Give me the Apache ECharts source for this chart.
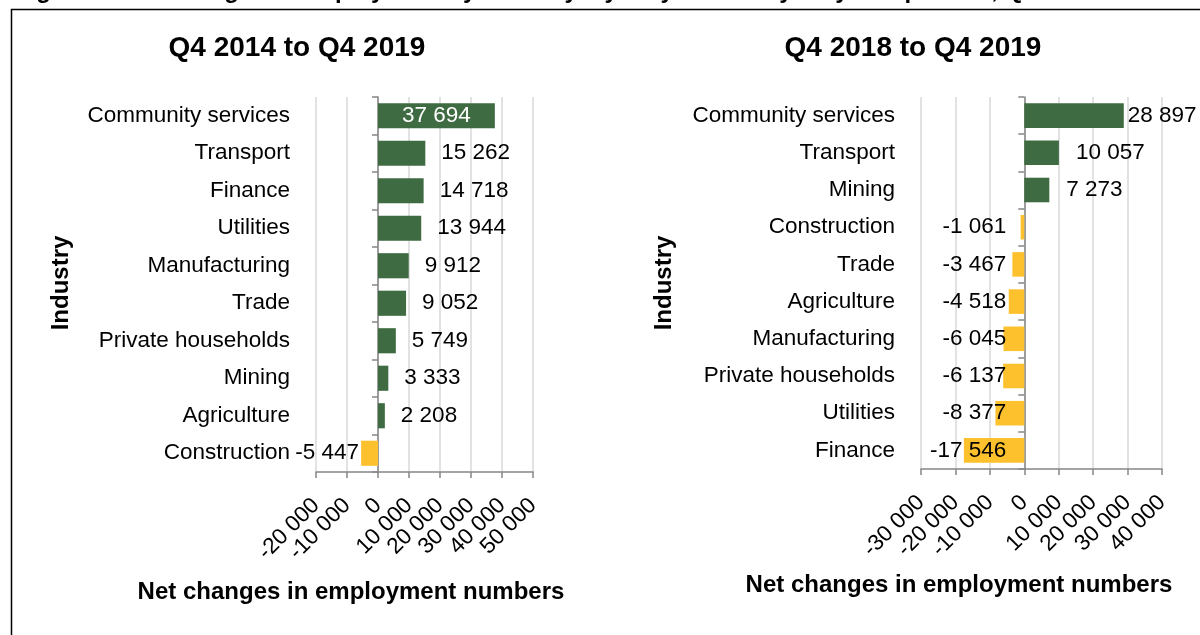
<!DOCTYPE html>
<html>
<head>
<meta charset="utf-8">
<script src="https://cdn.jsdelivr.net/npm/echarts@6/dist/echarts.min.js"></script>
<style>
  html, body { margin: 0; padding: 0; background: #fff; }
  #main { width: 1200px; height: 635px; }
</style>
</head>
<body>
<div id="main"></div>
<script>
// data: left panel (Q4 2014 to Q4 2019), top to bottom
var leftIndustries = ['Community services', 'Transport', 'Finance', 'Utilities', 'Manufacturing',
  'Trade', 'Private households', 'Mining', 'Agriculture', 'Construction'];
var leftValues = [37694, 15262, 14718, 13944, 9912, 9052, 5749, 3333, 2208, -5447];

// data: right panel (Q4 2018 to Q4 2019), top to bottom
var rightIndustries = ['Community services', 'Transport', 'Mining', 'Construction', 'Trade',
  'Agriculture', 'Manufacturing', 'Private households', 'Utilities', 'Finance'];
var rightValues = [28897, 10057, 7273, -1061, -3467, -4518, -6045, -6137, -8377, -17546];

var leftTitle = 'Q4 2014 to Q4 2019';
var rightTitle = 'Q4 2018 to Q4 2019';
var xName = 'Net changes in employment numbers';
var yName = 'Industry';

var GREEN = '#3e6b41';
var YELLOW = '#fdc12d';
var FONT = '"Liberation Sans", Arial, sans-serif';

//number with space as thousands separator
function fmt(v) {
  return String(v).replace(/\B(?=(\d{3})+(?!\d))/g, ' ');
}

function buildData(values, labelFor) {
  return values.map(function (v, i) {
    return {
      value: v,
      itemStyle: { color: v < 0 ? YELLOW : GREEN },
      label: labelFor(v, i)
    };
  });
}

var leftData = buildData(leftValues, function (v, i) {
  if (i === 0) return { position: 'inside', color: '#fff' };
  if (v < 0) return { position: 'left', distance: 2 };
  return { position: 'right', distance: 16 };
});
var rightData = buildData(rightValues, function (v, i) {
  if (i === 0) return { position: 'right', distance: 4 };
  if (v < 0) return { position: 'insideRight', distance: 18, color: '#000' };
  return { position: 'right', distance: 17 };
});

// the rotated tick labels overlap a little, so they are split over two axes
// (even / odd ticks) to stop echarts from dropping some of them
function valueAxes(grid, min, max) {
  function labels(parity) {
    return {
      rotate: 45, margin: 30, color: '#000', fontSize: 22.5, fontFamily: FONT,
      showMinLabel: true, showMaxLabel: true,
      formatter: function (v) {
        var k = Math.round((v - min) / 10000);
        return k % 2 === parity ? fmt(v) : '';
      }
    };
  }
  return [{
    type: 'value', gridIndex: grid, min: min, max: max, interval: 10000, position: 'bottom',
    axisLine: { show: true, onZero: false, lineStyle: { color: '#868686', width: 1.5 } },
    axisTick: { show: true, length: 6, lineStyle: { color: '#868686', width: 1.5 } },
    splitLine: { show: true, lineStyle: { color: '#d9d9d9', width: 1.5 } },
    axisLabel: labels(0)
  }, {
    type: 'value', gridIndex: grid, min: min, max: max, interval: 10000, position: 'bottom',
    axisLine: { show: false, onZero: false },
    axisTick: { show: false },
    splitLine: { show: false },
    axisLabel: labels(1)
  }];
}

function labelAxis(grid, cats) {
  return {
    type: 'category', gridIndex: grid, data: cats, inverse: true, position: 'left',
    axisLine: { show: false, onZero: false },
    axisTick: { show: false },
    axisLabel: { margin: 26, color: '#000', fontSize: 22.5, fontFamily: FONT, interval: 0 }
  };
}

function zeroAxis(grid, cats, xIndex) {
  return {
    type: 'category', gridIndex: grid, data: cats, inverse: true, position: 'left',
    axisLine: { show: true, onZero: true, onZeroAxisIndex: xIndex, lineStyle: { color: '#868686', width: 1.5 } },
    axisTick: { show: true, length: 6, lineStyle: { color: '#868686', width: 1.5 } },
    axisLabel: { show: false }
  };
}

var barLabel = {
  show: true, color: '#000', fontSize: 22.5, fontFamily: FONT,
  formatter: function (p) { return fmt(p.value); }
};

var myChart = echarts.init(document.getElementById('main'));
myChart.setOption({
  backgroundColor: '#fff',
  animation: false,
  grid: [
    { left: 316, right: 667, top: 97, bottom: 163 },
    { left: 921, right: 38, top: 97, bottom: 166 }
  ],
  xAxis: valueAxes(0, -20000, 50000).concat(valueAxes(1, -30000, 40000)),
  yAxis: [
    labelAxis(0, leftIndustries), zeroAxis(0, leftIndustries, 0),
    labelAxis(1, rightIndustries), zeroAxis(1, rightIndustries, 2)
  ],
  series: [
    { type: 'bar', xAxisIndex: 0, yAxisIndex: 0, data: leftData, barCategoryGap: '33%', label: barLabel },
    { type: 'bar', xAxisIndex: 2, yAxisIndex: 2, data: rightData, barCategoryGap: '34%', label: barLabel }
  ],
  graphic: [
    { //frame
      type: 'rect', silent: true,
      shape: { x: 11.5, y: 9.5, width: 1400, height: 800 },
      style: { fill: 'none', stroke: '#000', lineWidth: 1.5 }
    },
    { //caption cut off at the top edge
      type: 'text', x: 15, y: -9,
      style: { text: 'Figure 5: Net changes in employment by industry – yearly and five-yearly comparison, Q4 2019',
        font: 'bold 24px ' + FONT, fill: '#000', verticalAlign: 'middle' }
    },
    { type: 'text', x: 297, y: 48,
      style: { text: leftTitle, font: 'bold 28px ' + FONT, fill: '#000', align: 'center', verticalAlign: 'middle' } },
    { type: 'text', x: 913, y: 48,
      style: { text: rightTitle, font: 'bold 28px ' + FONT, fill: '#000', align: 'center', verticalAlign: 'middle' } },
    { type: 'text', x: 351, y: 592,
      style: { text: xName, font: 'bold 24px ' + FONT, fill: '#000', align: 'center', verticalAlign: 'middle' } },
    { type: 'text', x: 959, y: 585,
      style: { text: xName, font: 'bold 24px ' + FONT, fill: '#000', align: 'center', verticalAlign: 'middle' } },
    { type: 'text', x: 61, y: 283, rotation: Math.PI / 2,
      style: { text: yName, font: 'bold 24px ' + FONT, fill: '#000', align: 'center', verticalAlign: 'middle' } },
    { type: 'text', x: 664, y: 283, rotation: Math.PI / 2,
      style: { text: yName, font: 'bold 24px ' + FONT, fill: '#000', align: 'center', verticalAlign: 'middle' } }
  ]
});
</script>
</body>
</html>
